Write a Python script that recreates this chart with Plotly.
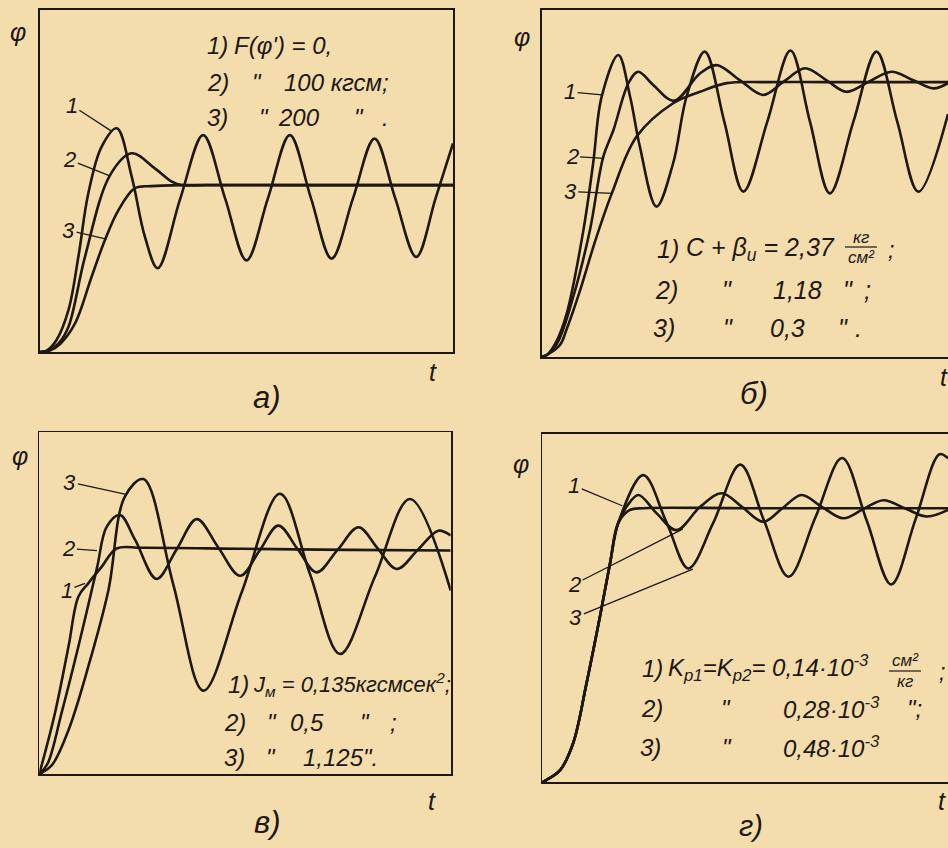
import plotly.graph_objects as go

W, H = 948, 848
BG = "#F4DDAD"
INK = "#1e1712"
FONT = "Liberation Sans, DejaVu Sans, sans-serif"

# ---------------- data (t and phi in box units 0..100) ----------------
# panel a)
A1_t = [0, 1.5, 4, 6.9, 9.3, 11.7, 14.9, 18.6, 22.2, 25.4, 28.5, 34, 39.5, 44.8, 50, 55.2, 60.5, 65.6, 70.6, 75.8, 81, 86, 91.1, 95.8, 100]
A1_p = [0, 0.3, 3.5, 12.3, 27.9, 46.4, 60, 65.4, 51.3, 33.7, 24.5, 45, 63.4, 45, 26.8, 45, 63.4, 45, 27.3, 45, 62.4, 45, 27.8, 45, 61]
A2_t = [0, 2, 4.5, 6.9, 10.9, 17, 22.2, 27.8, 31.9, 34.3, 40, 60, 80, 100]
A2_p = [0, 0.3, 2.5, 7.4, 27.9, 51.8, 58.1, 53.7, 49.8, 48.8, 48.8, 48.8, 48.8, 48.8]
A3_t = [0, 2.5, 5, 8.5, 12.5, 15.7, 19, 23, 27, 35, 60, 100]
A3_p = [0, 0.5, 2.5, 8.4, 22, 32.7, 41.5, 47.9, 48.5, 48.8, 48.8, 48.8]

# panel б)
B1_t = [0, 1.2, 3.5, 6.1, 10.2, 12.6, 14.7, 18.8, 21.7, 24.1, 28.2, 32.3, 35.6, 40.1, 44.9, 49.6, 55.5, 61.2, 66, 70.9, 76.7, 82.4, 87.5, 92.7, 100]
B1_p = [0, 0.5, 4.3, 12.5, 36.5, 55.8, 75, 87, 75, 60.6, 43.3, 55.8, 75, 88, 67.8, 47.6, 67.8, 88.3, 67.8, 47.1, 67.8, 88, 67.8, 47.6, 70]
B2_t = [0, 1.2, 3.8, 7.7, 11.8, 15.1, 17.6, 21.3, 23.7, 27.4, 32.5, 38.9, 43, 48.7, 54.5, 59.6, 64.8, 70, 75, 80.5, 86.1, 91.3, 96.4, 100]
B2_p = [0, 0.5, 4, 17.3, 36.5, 57.7, 65.4, 78.9, 82.2, 78.4, 73.8, 81.7, 84.1, 79.8, 75.5, 79.4, 83.2, 79.8, 76.4, 79.3, 82.2, 79.8, 77.4, 78.9]
B3_t = [0, 1.2, 4.5, 6, 9.4, 13, 17.2, 23.3, 32.3, 38.9, 45.5, 55, 70, 100]
B3_p = [0, 0.5, 3.5, 7.7, 19.2, 33, 47.1, 63.5, 73.1, 76.4, 78.9, 79.2, 79.2, 79.2]

# panel в)
C1_t = [0, 3.8, 7.1, 9.5, 11.9, 15.2, 18.8, 25, 50, 75, 100]
C1_p = [0, 17.8, 37.3, 51.9, 55.8, 60.7, 66, 66.2, 65.9, 65.6, 65.4]
C2_t = [0, 2, 5.4, 9.5, 14, 16.4, 19.6, 23.3, 28.5, 33.4, 38.3, 43.5, 48.8, 53.5, 58.1, 62.8, 67.4, 72.5, 77.6, 82.2, 86.9, 92, 97, 100]
C2_p = [0, 3, 17.8, 37.3, 60.2, 72.4, 75.8, 68.5, 57.1, 65.8, 74.6, 66.3, 58, 65.3, 72.7, 65.8, 59, 65.6, 72.2, 66.1, 60, 65.6, 71.2, 69.8]
C3_t = [0, 3, 7.1, 11.9, 16.8, 20.8, 25.3, 32.6, 39.9, 49.2, 58.5, 65.8, 73.1, 81.6, 90.1, 100]
C3_p = [0, 2.5, 12.9, 31.4, 53.8, 81.2, 86.3, 55.3, 24.4, 53.2, 82, 58.5, 35.1, 57.8, 80.5, 53.7]

# panel г)
D1_t = [0, 1.1, 4.4, 7.6, 10.9, 14.2, 16.7, 18.7, 21.6, 25, 50, 100]
D1_p = [0, 0.7, 3.5, 11.2, 28.4, 47.5, 62.9, 74.4, 78.2, 78.7, 78.7, 78.7]
D2_t = [0, 1.1, 4.4, 7.6, 10.9, 14.2, 16.7, 18.7, 21, 23.7, 28.2, 33.1, 38.9, 44.2, 49.3, 54.5, 59.2, 63.9, 69, 74.2, 79.2, 84.1, 89.5, 94.8, 100]
D2_p = [0, 0.7, 3.5, 11.2, 28.4, 47.5, 62.9, 74.4, 79.5, 82.5, 77.2, 72.4, 79.1, 83, 79, 74.8, 78.7, 82.5, 79, 75.8, 78.5, 81, 78.6, 76.3, 78.2]
D3_t = [0, 1.1, 4.4, 7.6, 10.9, 14.2, 16.7, 18.7, 24.9, 30.7, 36, 42.1, 48.8, 54.7, 60.7, 67.3, 73.9, 80, 86, 92, 97.9, 100]
D3_p = [0, 0.7, 3.5, 11.2, 28.4, 47.5, 62.9, 74.4, 88.2, 74.4, 61.4, 74.4, 91.2, 75, 59, 76, 93.1, 75, 56.8, 75.5, 94.2, 93]

# ---------------- layout helpers ----------------
def px(x):
    return x / W

def py(y):
    return 1 - y / H

# box (left, top, right, bottom) in pixels; closed = right border visible
PANELS = [
    dict(box=(40, 10, 453, 352), closed=True),
    dict(box=(542, 10, 948, 356.7), closed=False),
    dict(box=(39.3, 432.3, 450.7, 774), closed=True),
    dict(box=(542.3, 434, 948, 782.3), closed=False),
]

fig = go.Figure()
layout = dict(width=W, height=H, margin=dict(l=0, r=0, t=0, b=0),
              paper_bgcolor=BG, plot_bgcolor="rgba(0,0,0,0)", showlegend=False)

for i, p in enumerate(PANELS, start=1):
    l, t, r, b = p["box"]
    sfx = "" if i == 1 else str(i)
    common = dict(range=[0, 100], showgrid=False, zeroline=False, showticklabels=False,
                  ticks="", showline=True, linecolor=INK, linewidth=1.8, fixedrange=True)
    layout["xaxis" + sfx] = dict(domain=[px(l), min(px(r), 1)], anchor="y" + sfx, mirror=True, **common)
    layout["yaxis" + sfx] = dict(domain=[py(b), py(t)], anchor="x" + sfx, mirror=p["closed"], **common)

fig.update_layout(**layout)

series = [
    (1, A1_t, A1_p), (1, A2_t, A2_p), (1, A3_t, A3_p),
    (2, B1_t, B1_p), (2, B2_t, B2_p), (2, B3_t, B3_p),
    (3, C1_t, C1_p), (3, C2_t, C2_p), (3, C3_t, C3_p),
    (4, D1_t, D1_p), (4, D2_t, D2_p), (4, D3_t, D3_p),
]
for k, tt, pp in series:
    sfx = "" if k == 1 else str(k)
    fig.add_trace(go.Scatter(x=tt, y=pp, xaxis="x" + sfx, yaxis="y" + sfx, mode="lines",
                             line=dict(color=INK, width=2.6, shape="spline", smoothing=1.0),
                             hoverinfo="skip", showlegend=False))

ann = []

def txt(x, y, s, size=24, anchor="left"):
    ann.append(dict(x=px(x), y=py(y), xref="paper", yref="paper", text="<i>" + s + "</i>",
                    showarrow=False, xanchor=anchor, yanchor="middle",
                    font=dict(family=FONT, size=size, color=INK)))

def lead(k, t, phi, dx, dy, s):
    sfx = "" if k == 1 else str(k)
    ann.append(dict(x=t, y=phi, xref="x" + sfx, yref="y" + sfx, ax=dx, ay=dy, text="<i>" + s + "</i>",
                    showarrow=True, arrowhead=0, arrowwidth=1.3, arrowcolor=INK, standoff=0,
                    font=dict(family=FONT, size=22, color=INK)))

# panel a
txt(18, 32, "φ", 25, "center")
txt(433, 372, "t", 25, "center")
txt(267, 397, "а)", 31, "center")
txt(205, 45, "1)", 24); txt(232, 45, "F(φ') = 0,", 24)
txt(205, 82, "2)", 24); txt(250, 82, '"', 24); txt(282, 82, "100 кгсм;", 24)
txt(205, 118, "3)", 24); txt(257, 118, '"', 24); txt(276, 118, "200", 24); txt(352, 118, '"', 24); txt(380, 118, ".", 24)
lead(1, 17.4, 64.5, -40, -26, "1")
lead(1, 16.9, 51.5, -40, -16, "2")
lead(1, 16.1, 33, -38, -9, "3")

# panel б
txt(522, 37, "φ", 25, "center")
txt(944, 377, "t", 25, "center")
txt(754, 393, "б)", 31, "center")
txt(655, 249, "1)", 25); txt(684, 249, "C + β<sub>и</sub> = 2,37", 25)
txt(861, 237, "кг", 17, "center"); txt(861, 257, "см²", 17, "center"); txt(886, 250, ";", 23)
txt(653, 290, "2)", 25); txt(720, 290, '"', 25); txt(771, 290, "1,18", 25); txt(841, 290, '"', 25); txt(862, 290, ";", 25)
txt(651, 328, "3)", 25); txt(721, 328, '"', 25); txt(768, 328, "0,3", 25); txt(836, 328, '"', 25); txt(853, 328, ".", 25)
lead(2, 14.8, 75.5, -32, -3, "1")
lead(2, 15.3, 57.2, -32, -2, "2")
lead(2, 17.3, 47.1, -42, -2, "3")

# panel в
txt(20, 456, "φ", 25, "center")
txt(432, 801, "t", 25, "center")
txt(267, 822, "в)", 31, "center")
txt(226, 684, "1)", 24); txt(251, 684, "J<sub>м</sub> = 0,135кгсмсек<sup>2</sup>;", 22)
txt(222, 722, "2)", 24); txt(265, 722, '"', 24); txt(288, 722, "0,5", 24); txt(358, 722, '"', 24); txt(388, 722, ";", 24)
txt(222, 757, "3)", 24); txt(264, 757, '"', 24); txt(301, 757, "1,125", 24); txt(361, 757, '".', 24)
lead(3, 20.8, 81.9, -55, -12, "3")
lead(3, 14, 65.4, -28, -2, "2")
lead(3, 11.1, 55.8, -18, 7, "1")

# panel г
txt(521, 464, "φ", 25, "center")
txt(942, 801, "t", 25, "center")
txt(751, 826, "г)", 29, "center")
txt(640, 668, "1)", 24); txt(666, 668, "K<sub>р1</sub>=K<sub>р2</sub>= 0,14·10<sup>-3</sup>", 24)
txt(905, 660, "см²", 17, "center"); txt(905, 681, "кг", 17, "center"); txt(937, 672, ";", 23)
txt(639, 708, "2)", 24); txt(719, 708, '"', 24); txt(781, 708, "0,28·10<sup>-3</sup>", 24); txt(905, 708, '";', 24)
txt(638, 747, "3)", 24); txt(720, 747, '"', 24); txt(781, 747, "0,48·10<sup>-3</sup>", 24)
lead(4, 19.7, 79.4, -48, -20, "1")
lead(4, 34.6, 72.7, -108, 55, "2")
lead(4, 37.1, 61.2, -117, 48, "3")

shapes = [
    dict(type="line", xref="paper", yref="paper", x0=px(845), x1=px(877), y0=py(247), y1=py(247),
         line=dict(color=INK, width=1.2)),
    dict(type="line", xref="paper", yref="paper", x0=px(889), x1=px(921), y0=py(671), y1=py(671),
         line=dict(color=INK, width=1.2)),
]

fig.update_layout(annotations=ann, shapes=shapes)
fig.write_html("out.html", config={"displayModeBar": False, "staticPlot": True},
               post_script="document.body.style.margin='0';document.body.style.background='" + BG + "';")
